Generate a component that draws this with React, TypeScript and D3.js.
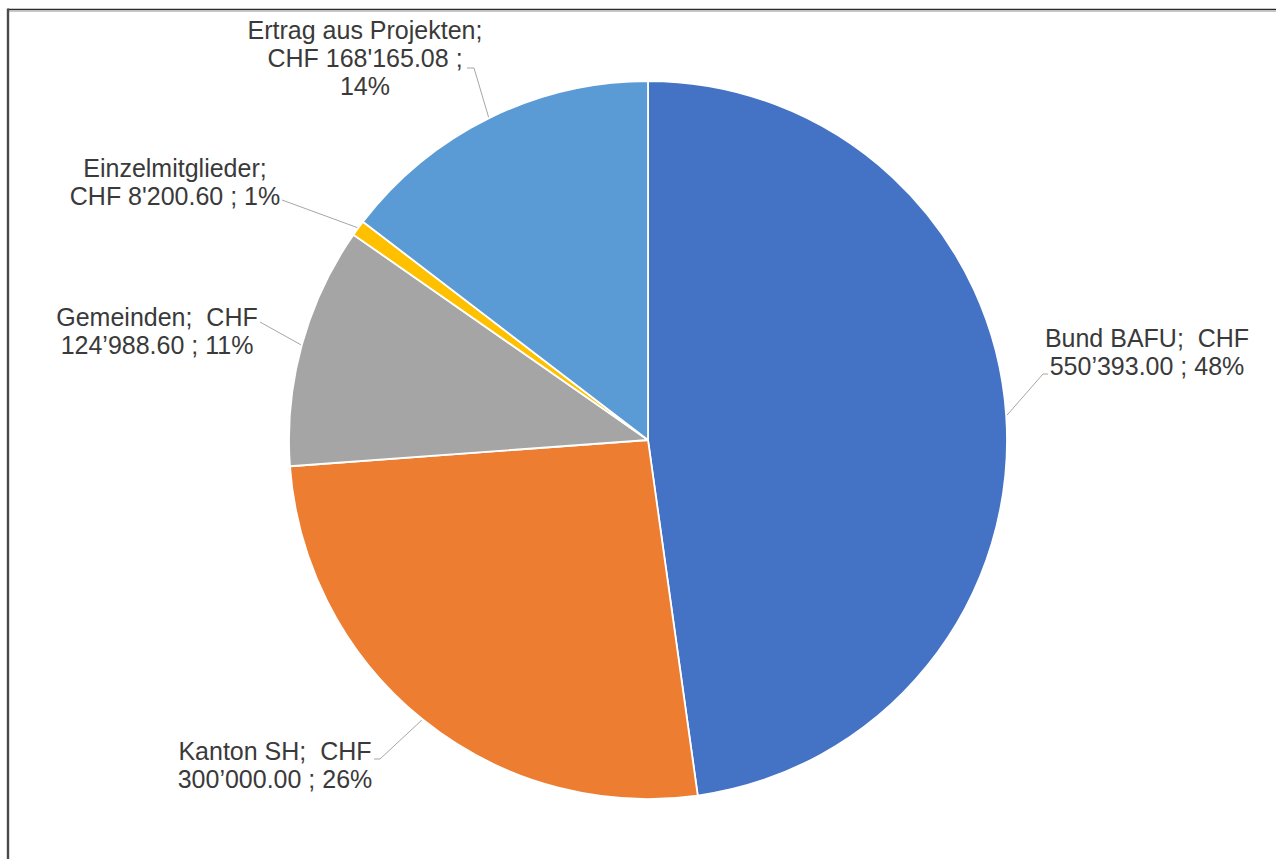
import React from "react";
import * as d3 from "d3";

// ---- data ----
const categories = ["Bund BAFU", "Kanton SH", "Gemeinden", "Einzelmitglieder", "Ertrag aus Projekten"];
const values = [550393.0, 300000.0, 124988.6, 8200.6, 168165.08];
const valueLabels = ["550’393.00", "300’000.00", "124’988.60", "8'200.60", "168'165.08"];
const percentLabels = ["48%", "26%", "11%", "1%", "14%"];
const colors = ["#4472C4", "#ED7D31", "#A5A5A5", "#FFC000", "#5B9BD5"];

// ---- layout (label placement, as in the original) ----
const W = 1276;
const H = 859;
const CX = 648;
const CY = 440;
const R = 359;
const FONT = 25;
const LINE = 28;

type Layout = { x: number; y: number; lines: string[]; leader: [number, number][] };

function buildLayout(i: number): Layout {
  const c = categories[i];
  const v = valueLabels[i];
  const p = percentLabels[i];
  switch (i) {
    case 0:
      return { x: 1147, y: 347, lines: [`${c};  CHF`, `${v} ; ${p}`], leader: [[1043, 374], [1048, 374]] };
    case 1:
      return { x: 275, y: 760, lines: [`${c};  CHF`, `${v} ; ${p}`], leader: [[380, 759], [374, 759]] };
    case 2:
      return { x: 157, y: 326, lines: [`${c};  CHF`, `${v} ; ${p}`], leader: [[260, 322]] };
    case 3:
      return { x: 175, y: 177, lines: [`${c};`, `CHF ${v} ; ${p}`], leader: [[282, 200]] };
    default:
      return { x: 365, y: 39, lines: [`${c};`, `CHF ${v} ;`, p], leader: [[474, 68], [467, 68]] };
  }
}

export default function App() {
  const pie = d3.pie<number>().sort(null).value((d) => d)(values);
  const arc = d3.arc<d3.PieArcDatum<number>>().innerRadius(0).outerRadius(R);
  const line = d3.line();

  return (
    <svg
      width={W}
      height={H}
      style={{ position: "absolute", left: 0, top: 0, display: "block", background: "#fff" }}
    >
      <rect x={0} y={0} width={W} height={H} fill="#fff" />
      {/* frame */}
      <line x1={8} y1={9.5} x2={W} y2={9.5} stroke="#2b2b2b" strokeWidth={1.6} />
      <line x1={8} y1={11.2} x2={W} y2={11.2} stroke="#b0b0b0" strokeWidth={1} />
      <line x1={8} y1={8.5} x2={8} y2={H} stroke="#4a4a4a" strokeWidth={2.4} />

      <g transform={`translate(${CX},${CY})`}>
        {pie.map((d, i) => (
          <path key={categories[i]} d={arc(d) || ""} fill={colors[i]} stroke="#fff" strokeWidth={1.8} strokeLinejoin="round" />
        ))}
      </g>

      {pie.map((d, i) => {
        const L = buildLayout(i);
        const mid = (d.startAngle + d.endAngle) / 2;
        const start: [number, number] = [CX + (R + 1) * Math.sin(mid), CY - (R + 1) * Math.cos(mid)];
        const pts: [number, number][] = [start, ...L.leader];
        return (
          <g key={"lbl" + categories[i]}>
            <path d={line(pts) || ""} fill="none" stroke="#a6a6a6" strokeWidth={1} />
            <text
              x={L.x}
              y={L.y}
              textAnchor="middle"
              fontFamily="'Liberation Sans', Arial, sans-serif"
              fontSize={FONT}
              fill="#3a3a3a"
              style={{ whiteSpace: "pre" }}
            >
              {L.lines.map((t, j) => (
                <tspan key={j} x={L.x} y={L.y + j * LINE}>
                  {t}
                </tspan>
              ))}
            </text>
          </g>
        );
      })}
    </svg>
  );
}
